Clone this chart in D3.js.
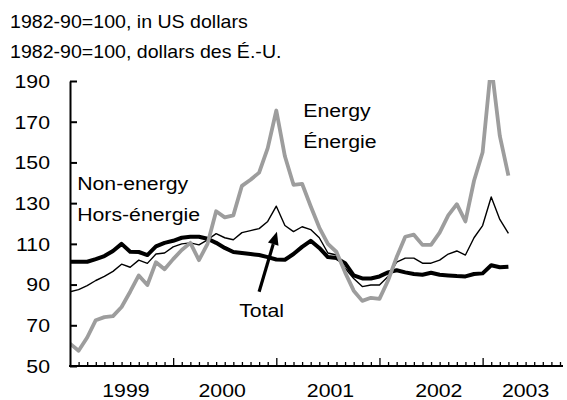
<!DOCTYPE html>
<html><head><meta charset="utf-8">
<script src="https://cdn.jsdelivr.net/npm/d3@7"></script>
<style>
body{margin:0;background:#fff}
svg{display:block}
text{font-family:"Liberation Sans",Arial,Helvetica,sans-serif;fill:#000}
</style>
</head><body>
<svg id="c" width="567" height="400"></svg>
<script>
// Monthly data, Jan 1999 .. Apr 2003 (1982-90=100, US dollars)
const months = d3.timeMonth.range(new Date(1999,0,1), new Date(2003,4,1));
const energy = [61,57.5,64,72.5,74,74.5,79,86.5,94.5,89.8,101,97.5,
  102.5,107,110.5,102,110,126,123,124,138.5,141.5,145,157,
  175.5,153,139,139.5,128.5,118,110,106,96,87,82,83.5,
  83,92,103.5,113.5,114.5,109.5,109.5,115.5,124,129.5,121,141,
  155,198,163,143.5];
const nonEnergy = [86.5,87.5,89.5,92,94,96.5,100,98.5,102,100.4,105,105.5,
  108.5,110,110.5,109.5,112,115,113,112,115.5,116.5,117.5,121,
  128.5,119,116,118.4,117,113,105.5,104.5,98,93,89,89.8,
  89.8,94,101,103,103,100.5,100.5,102,105,106.5,104.5,113,
  119,133,122,115.2];
const total = [101.2,101.2,101.2,102.5,104,106.5,110,106.1,106,104.5,108.8,110.5,
  111.5,113,113.5,113.5,112.5,110.5,108,106,105.5,105,104.5,103.5,
  102.3,102.2,105,108.5,111.5,108,103.5,103,100.5,94.5,93,93,
  94,96,97,96,95.2,94.8,95.8,94.8,94.5,94.2,94,95.2,
  95.5,99.5,98.5,98.8];
const yTicks = [50,70,90,110,130,150,170,190];
const yearLabels = ["1999","2000","2001","2002","2003"];
const yearLabelAt = [6.5,17.7,30.3,42.9,53.0];   // month index of label centres
const yearStarts = [12,24,36,48];                  // month index of long ticks
const subtitles = ["1982-90=100, in US dollars","1982-90=100, dollars des É.-U."];
const seriesLabels = [
  {text:"Energy", m:27.13, v:172.3},
  {text:"Énergie", m:27.13, v:157.1},
  {text:"Non-energy", m:0.83, v:136.4},
  {text:"Hors-énergie", m:0.83, v:121.4},
  {text:"Total", m:19.68, v:74.1}
];
const arrowFrom = {m:22.0, v:86.5}, arrowTo = {m:24.07, v:116};

const svg = d3.select("#c");
const x = d3.scaleLinear().domain([0,57.35]).range([70,563]);
const y = d3.scaleLinear().domain([50,190]).range([366,81]);
const SX = 1.15;

function label(g, tx, ty, str, size, anchor, sx){
  g.append("text")
    .attr("transform",`translate(${tx},${ty}) scale(${sx},1)`)
    .attr("text-anchor",anchor)
    .style("font-size",size+"px")
    .text(str);
}

// subtitles
subtitles.forEach((s,i)=>label(svg,10,28+i*30,s,17.8,"start",1.1));

// clip
svg.append("defs").append("clipPath").attr("id","clip")
  .append("rect").attr("x",70).attr("y",y(190)-1).attr("width",495).attr("height",y(50)-y(190)+1);

const plot = svg.append("g").attr("clip-path","url(#clip)");
const line = arr => d3.line().x((d,i)=>x(i)).y(d=>y(d))(arr);

plot.append("path").attr("d",line(nonEnergy)).attr("fill","none")
  .attr("stroke","#000").attr("stroke-width",1.4).attr("stroke-linejoin","round");
plot.append("path").attr("d",line(total)).attr("fill","none")
  .attr("stroke","#000").attr("stroke-width",4).attr("stroke-linejoin","round");
plot.append("path").attr("d",line(energy)).attr("fill","none")
  .attr("stroke","#9d9d9d").attr("stroke-width",3.8).attr("stroke-linejoin","round");

// Y axis
const yAxis = d3.axisLeft(y).tickValues(yTicks).tickSizeInner(-7).tickSizeOuter(0).tickFormat("");
const gy = svg.append("g").attr("transform","translate(70,0)").call(yAxis);
gy.select(".domain").attr("stroke-width",2);
gy.selectAll(".tick line").attr("stroke-width",2);
yTicks.forEach(t=>label(svg,50,y(t)+6.8,String(t),18.5,"end",SX));

// X axis
const xAxis = d3.axisBottom(x).tickValues(d3.range(1,58)).tickSizeInner(-4).tickSizeOuter(0).tickFormat("");
const gx = svg.append("g").attr("transform","translate(0,366)").call(xAxis);
gx.select(".domain").attr("stroke-width",2).attr("d",`M${x(0)-1},0H${x(57.35)}`);
gx.selectAll(".tick line").attr("stroke-width",1.3)
  .attr("y2",d=>yearStarts.includes(d)?-8:-4);
yearLabels.forEach((s,i)=>label(svg,x(yearLabelAt[i]),396.5,s,18.5,"middle",SX));

// series labels
seriesLabels.forEach(l=>label(svg,x(l.m),y(l.v),l.text,18.5,"start",SX));

// arrow
const ax1=x(arrowFrom.m), ay1=y(arrowFrom.v), ax2=x(arrowTo.m), ay2=y(arrowTo.v);
const ang=Math.atan2(ay2-ay1,ax2-ax1), hl=13, hw=5.5;
const bx=ax2-hl*Math.cos(ang), by=ay2-hl*Math.sin(ang);
svg.append("line").attr("x1",ax1).attr("y1",ay1).attr("x2",bx).attr("y2",by)
  .attr("stroke","#000").attr("stroke-width",3.2);
svg.append("path")
  .attr("d",`M${ax2},${ay2}L${bx+hw*Math.sin(ang)},${by-hw*Math.cos(ang)}L${bx-hw*Math.sin(ang)},${by+hw*Math.cos(ang)}Z`)
  .attr("fill","#000");
</script>
</body></html>
